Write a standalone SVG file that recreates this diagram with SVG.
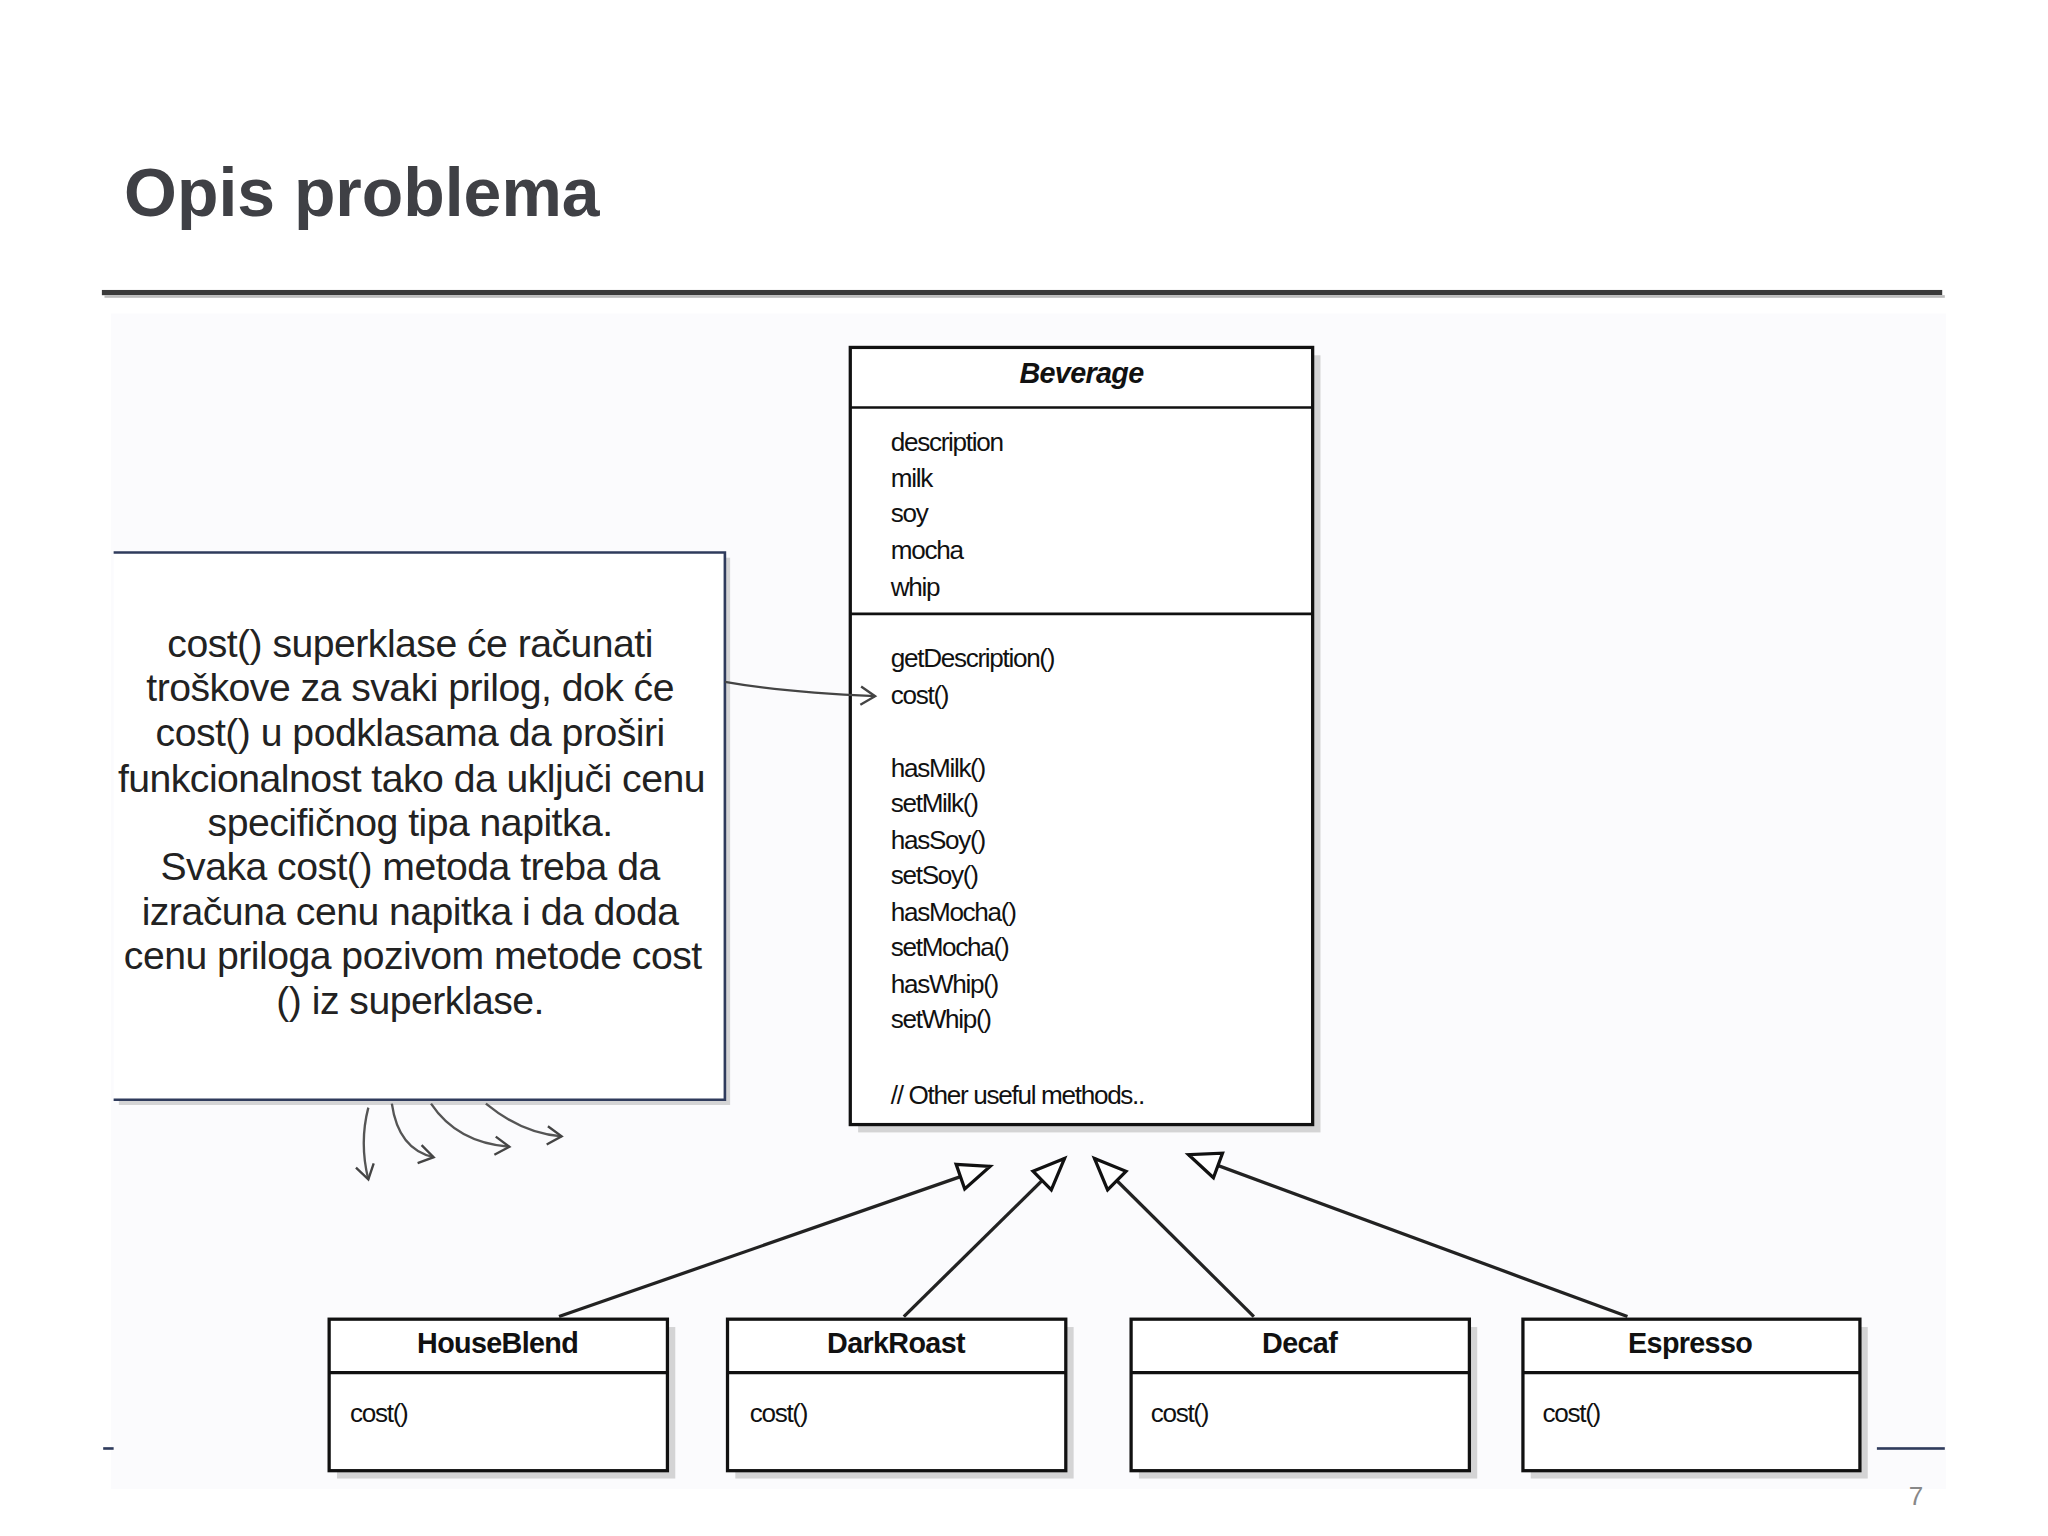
<svg xmlns="http://www.w3.org/2000/svg" width="2048" height="1536" viewBox="0 0 2048 1536">
<style>
.t{font-family:"Liberation Sans",Arial,sans-serif;font-size:20px;fill:#111;letter-spacing:-1px}
.b{font-family:"Liberation Sans",Arial,sans-serif;font-size:22px;font-weight:bold;fill:#111;text-anchor:middle;letter-spacing:-0.5px}
.n{font-family:"Liberation Sans",Arial,sans-serif;font-size:30px;fill:#222;text-anchor:middle;letter-spacing:-0.4px}
.box{fill:#fff;stroke:#111;stroke-width:2.5}
.sh{fill:#bbb;opacity:0.6}
.c{fill:none;stroke:#222;stroke-width:2.5}
</style>
<defs>
<marker id="tri" markerWidth="30" markerHeight="30" refX="26" refY="12" orient="auto" markerUnits="userSpaceOnUse">
<path d="M2,2 L26,12 L2,22 Z" fill="#fff" stroke="#111" stroke-width="2.5"/>
</marker>
<marker id="open" markerWidth="20" markerHeight="20" refX="14" refY="9" orient="auto" markerUnits="userSpaceOnUse">
<path d="M3,2 L14,9 L3,16" fill="none" stroke="#444" stroke-width="1.8"/>
</marker>
</defs>
<rect width="2048" height="1536" fill="#fff"/>
<g transform="scale(1.30612)">
<rect x="85" y="240" width="1405" height="900" fill="#fbfbfd"/>
<text x="95" y="165" font-family="Liberation Sans,Arial,sans-serif" font-size="52" font-weight="bold" fill="#3f4045">Opis problema</text>
<rect x="78" y="222" width="1409" height="4" fill="#3a3a3a"/>
<rect x="80" y="226" width="1409" height="2" fill="#bbb"/>

<g id="beverage">
<rect class="sh" x="657" y="272" width="354" height="595"/>
<rect class="box" x="651" y="266" width="354" height="595"/>
<line x1="651" y1="312" x2="1005" y2="312" stroke="#111" stroke-width="2"/>
<line x1="651" y1="470" x2="1005" y2="470" stroke="#111" stroke-width="2"/>
<text class="b" x="828" y="293" font-style="italic">Beverage</text>
<text class="t" x="682" y="345">description</text>
<text class="t" x="682" y="373">milk</text>
<text class="t" x="682" y="400">soy</text>
<text class="t" x="682" y="428">mocha</text>
<text class="t" x="682" y="456">whip</text>
<text class="t" x="682" y="511">getDescription()</text>
<text class="t" x="682" y="539">cost()</text>
<text class="t" x="682" y="595">hasMilk()</text>
<text class="t" x="682" y="622">setMilk()</text>
<text class="t" x="682" y="650">hasSoy()</text>
<text class="t" x="682" y="677">setSoy()</text>
<text class="t" x="682" y="705">hasMocha()</text>
<text class="t" x="682" y="732">setMocha()</text>
<text class="t" x="682" y="760">hasWhip()</text>
<text class="t" x="682" y="787">setWhip()</text>
<text class="t" x="682" y="845">// Other useful methods..</text>
</g>

<g id="note">
<rect class="sh" x="91" y="427" width="468" height="419"/>
<rect x="87" y="423" width="468" height="419" fill="#fff"/>
<path d="M87,423 H555 V842 H87" fill="none" stroke="#2f3b5c" stroke-width="2"/>
<text class="n" x="314" y="503">cost() superklase će računati</text>
<text class="n" x="314" y="537">troškove za svaki prilog, dok će</text>
<text class="n" x="314" y="571">cost() u podklasama da proširi</text>
<text class="n" x="315" y="606">funkcionalnost tako da uključi cenu</text>
<text class="n" x="314" y="640">specifičnog tipa napitka.</text>
<text class="n" x="314" y="674">Svaka cost() metoda treba da</text>
<text class="n" x="314" y="708">izračuna cenu napitka i da doda</text>
<text class="n" x="316" y="742">cenu priloga pozivom metode cost</text>
<text class="n" x="314" y="776">() iz superklase.</text>
</g>

<g id="houseblend">
<rect class="sh" x="258" y="1016" width="259" height="116"/>
<rect class="box" x="252" y="1010" width="259" height="116"/>
<line x1="252" y1="1051" x2="511" y2="1051" stroke="#111" stroke-width="2.5"/>
<text class="b" x="381" y="1036">HouseBlend</text>
<text class="t" x="268" y="1089">cost()</text>
</g>
<g id="darkroast">
<rect class="sh" x="563" y="1016" width="259" height="116"/>
<rect class="box" x="557" y="1010" width="259" height="116"/>
<line x1="557" y1="1051" x2="816" y2="1051" stroke="#111" stroke-width="2.5"/>
<text class="b" x="686" y="1036">DarkRoast</text>
<text class="t" x="574" y="1089">cost()</text>
</g>
<g id="decaf">
<rect class="sh" x="872" y="1016" width="259" height="116"/>
<rect class="box" x="866" y="1010" width="259" height="116"/>
<line x1="866" y1="1051" x2="1125" y2="1051" stroke="#111" stroke-width="2.5"/>
<text class="b" x="995" y="1036">Decaf</text>
<text class="t" x="881" y="1089">cost()</text>
</g>
<g id="espresso">
<rect class="sh" x="1172" y="1016" width="258" height="116"/>
<rect class="box" x="1166" y="1010" width="258" height="116"/>
<line x1="1166" y1="1051" x2="1424" y2="1051" stroke="#111" stroke-width="2.5"/>
<text class="b" x="1294" y="1036">Espresso</text>
<text class="t" x="1181" y="1089">cost()</text>
</g>

<g id="connectors">
<line class="c" x1="428" y1="1008" x2="758" y2="893" marker-end="url(#tri)"/>
<line class="c" x1="692" y1="1008" x2="815" y2="887" marker-end="url(#tri)"/>
<line class="c" x1="960" y1="1008" x2="838" y2="887" marker-end="url(#tri)"/>
<line class="c" x1="1246" y1="1008" x2="910" y2="884" marker-end="url(#tri)"/>
<path d="M555,522 Q600,530 670,533" fill="none" stroke="#444" stroke-width="1.8" marker-end="url(#open)"/>
<path d="M282,848 Q275,875 282,903" fill="none" stroke="#555" stroke-width="1.8" marker-end="url(#open)"/>
<path d="M300,845 Q305,880 332,886" fill="none" stroke="#555" stroke-width="1.8" marker-end="url(#open)"/>
<path d="M330,845 Q350,875 390,878" fill="none" stroke="#555" stroke-width="1.8" marker-end="url(#open)"/>
<path d="M372,845 Q400,868 430,870" fill="none" stroke="#555" stroke-width="1.8" marker-end="url(#open)"/>
</g>

<rect x="79" y="1108" width="8" height="2" fill="#2f3b5c"/>
<rect x="1437" y="1108" width="52" height="2" fill="#2f3b5c"/>
<text x="1467" y="1152" font-family="Liberation Sans,Arial,sans-serif" font-size="20" fill="#888" text-anchor="middle">7</text>
</g>
</svg>
